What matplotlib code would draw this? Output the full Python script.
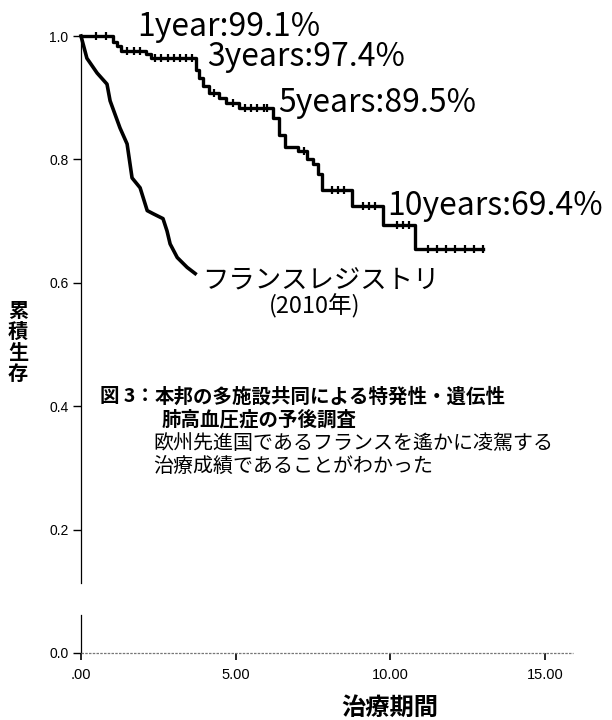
import numpy as np
import matplotlib.pyplot as plt

plt.rcParams['font.family'] = ['Noto Sans CJK JP', 'DejaVu Sans']

# Japanese registry (Kaplan-Meier step curve): event times (years) and survival after each step
jp_time = [0, 1.05, 1.15, 1.30, 2.10, 2.25, 3.72, 3.80, 3.95, 4.15, 4.45, 4.70, 5.10,
           6.20, 6.40, 6.60, 7.00, 7.30, 7.50, 7.65, 7.80, 8.75, 9.75, 10.80, 13.00]
jp_surv = [1.000, 0.991, 0.984, 0.976, 0.971, 0.964, 0.945, 0.932, 0.919, 0.908, 0.900,
           0.892, 0.883, 0.867, 0.840, 0.820, 0.814, 0.800, 0.793, 0.777, 0.750, 0.725,
           0.694, 0.654, 0.654]
# censored observations (tick marks)
jp_censor = [0.5, 0.8, 1.5, 1.7, 1.9, 2.4, 2.6, 2.8, 3.0, 3.2, 3.4, 3.6, 4.3, 4.9,
             5.3, 5.5, 5.7, 5.9, 6.0, 7.2, 8.1, 8.3, 8.5, 9.1, 9.3, 9.5, 10.2, 10.4,
             10.6, 11.2, 11.5, 11.8, 12.1, 12.4, 12.7, 13.0]

# French registry (2010)
fr_time = [0, 0.19, 0.52, 0.84, 0.94, 1.26, 1.49, 1.65, 1.91, 2.14, 2.33, 2.65, 2.78,
           2.88, 3.11, 3.43, 3.69]
fr_surv = [1.000, 0.964, 0.940, 0.922, 0.895, 0.851, 0.825, 0.770, 0.754, 0.717, 0.712,
           0.704, 0.684, 0.663, 0.641, 0.625, 0.615]

yticks = [0.0, 0.2, 0.4, 0.6, 0.8, 1.0]
ytick_labels = ['0.0', '0.2', '0.4', '0.6', '0.8', '1.0']
xticks = [0, 5, 10, 15]
xtick_labels = ['.00', '5.00', '10.00', '15.00']

W, H = 612, 720
fig = plt.figure(figsize=(W / 100, H / 100), dpi=100)
ax = fig.add_axes([81 / W, 1 - 653 / H, (573 - 81) / W, (653 - 36) / H])
ax.set_xlim(0, 15.9)
ax.set_ylim(0, 1.0)

# curves
ax.plot(fr_time, fr_surv, color='black', lw=2.6, solid_joinstyle='round', clip_on=False)
ax.step(jp_time, jp_surv, where='post', color='black', lw=2.4, clip_on=False)
idx = np.searchsorted(jp_time, jp_censor, side='right') - 1
ax.plot(jp_censor, np.array(jp_surv)[idx], ls='none', marker='|', ms=6, mew=1.6,
        color='black', clip_on=False)

# axes styling: broken y axis line, dotted x axis line
for s in ['top', 'right', 'left', 'bottom']:
    ax.spines[s].set_visible(False)
ax.plot([0, 0], [0, 0.062], color='black', lw=0.9, transform=ax.transAxes, clip_on=False)
ax.plot([0, 0], [0.113, 1.0], color='black', lw=0.9, transform=ax.transAxes, clip_on=False)
ax.plot([0, 1], [0, 0], color='#777777', lw=0.9, ls=(0, (2, 1)), transform=ax.transAxes,
        clip_on=False)

ax.set_yticks(yticks)
ax.set_yticklabels(ytick_labels, family='Liberation Sans', fontsize=10)
ax.set_xticks(xticks)
ax.set_xticklabels(xtick_labels, family='Liberation Sans', fontsize=10.5)
ax.tick_params(axis='y', length=6, width=1.0, pad=3)
ax.tick_params(axis='x', length=5, width=1.2, pad=6)

# survival annotations
lab_kw = dict(fontsize=23, va='baseline', ha='left', clip_on=False)
ax.text(1.81, 1.0, '1year:99.1%', **lab_kw)
ax.text(4.07, 0.951, '3years:97.4%', **lab_kw)
ax.text(6.37, 0.877, '5years:89.5%', **lab_kw)
ax.text(9.89, 0.710, '10years:69.4%', **lab_kw)
ax.text(3.91, 0.591, 'フランスレジストリ', fontsize=19, va='baseline', ha='left')
ax.text(7.55, 0.551, '(2010年)', fontsize=17, va='baseline', ha='center')

# axis titles
fig.text(390 / W, 1 - 708 / H, '治療期間', fontsize=17.5, fontweight='bold',
         ha='center', va='center')
fig.text(18 / W, 1 - 342 / H, '累\n積\n生\n存', fontsize=14.5, fontweight='bold',
         ha='center', va='center', linespacing=1.0)

# caption
fig.text(100 / W, 1 - 397 / H, '図 3：', fontsize=14, fontweight='bold', va='center')
fig.text(155 / W, 1 - 397 / H, '本邦の多施設共同による特発性・遺伝性', fontsize=14,
         fontweight='bold', va='center')
fig.text(162 / W, 1 - 420 / H, '肺高血圧症の予後調査', fontsize=14, fontweight='bold',
         va='center')
fig.text(153 / W, 1 - 443 / H, '欧州先進国であるフランスを遙かに凌駕する', fontsize=14.4,
         va='center')
fig.text(153 / W, 1 - 466 / H, '治療成績であることがわかった', fontsize=14.4, va='center')

fig.savefig('out.png', dpi=100)
